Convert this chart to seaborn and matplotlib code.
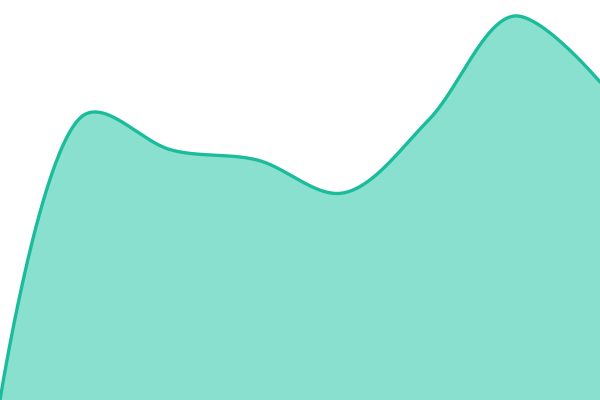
import numpy as np
import pandas as pd
import matplotlib
matplotlib.use("Agg")
import matplotlib.pyplot as plt
import seaborn as sns

# Data (category index and value)
categories = [0, 1, 2, 3, 4, 5, 6, 7]
values = [0, 286, 250, 240, 207, 280, 384, 318]

LINE = "#1abc9c"
FILL = "#8ae0cf"


def catmull_rom(xs, ys, alpha=0.5, n=60):
    P = np.column_stack([xs, ys]).astype(float)
    P = np.vstack([P[0], P, P[-1]])
    out = []
    for i in range(1, len(P) - 2):
        p0, p1, p2, p3 = P[i - 1], P[i], P[i + 1], P[i + 2]
        def tj(ti, a, b):
            d = np.hypot(*(b - a))
            return ti + max(d, 1e-6) ** alpha
        t0 = 0.0
        t1 = tj(t0, p0, p1)
        t2 = tj(t1, p1, p2)
        t3 = tj(t2, p2, p3)
        t = np.linspace(t1, t2, n)[:, None]
        A1 = (t1 - t) / (t1 - t0) * p0 + (t - t0) / (t1 - t0) * p1
        A2 = (t2 - t) / (t2 - t1) * p1 + (t - t1) / (t2 - t1) * p2
        A3 = (t3 - t) / (t3 - t2) * p2 + (t - t2) / (t3 - t2) * p3
        B1 = (t2 - t) / (t2 - t0) * A1 + (t - t0) / (t2 - t0) * A2
        B2 = (t3 - t) / (t3 - t1) * A2 + (t - t1) / (t3 - t1) * A3
        C = (t2 - t) / (t2 - t1) * B1 + (t - t1) / (t2 - t1) * B2
        out.append(C if i == 1 else C[1:])
    return np.vstack(out)


sns.set_theme(style="white")
fig = plt.figure(figsize=(6, 4), dpi=100)
ax = fig.add_axes([0, 0, 1, 1])

# scale x in pixel-like units so the spline is shaped in screen space
xs = np.array(categories) * (600 / 7)
curve = catmull_rom(xs, np.array(values, dtype=float))
df = pd.DataFrame({"x": curve[:, 0], "y": curve[:, 1]})

ax.fill_between(df["x"], df["y"], 0, color=FILL, linewidth=0)
sns.lineplot(data=df, x="x", y="y", ax=ax, color=LINE, linewidth=2.4, sort=False, estimator=None)

ax.set_xlim(0, 600)
ax.set_ylim(0, 400)
ax.axis("off")
fig.savefig("out.png", dpi=100)
